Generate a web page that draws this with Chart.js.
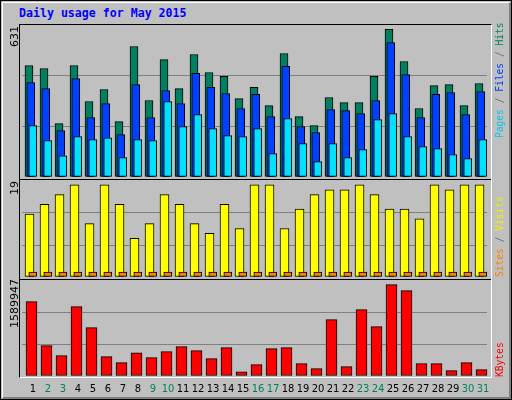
<!DOCTYPE html>
<html><head><meta charset="utf-8">
<script src="https://cdn.jsdelivr.net/npm/chart.js@4"></script>
<style>
html,body{margin:0;padding:0;width:512px;height:400px;overflow:hidden;background:#c0c0c0;}
#outer{position:absolute;left:0;top:0;width:510px;height:398px;border:1px solid #000;background:#c0c0c0;}
#inner{position:absolute;left:1px;top:1px;width:506px;height:394px;border-left:1px solid #fff;border-top:1px solid #fff;border-right:2px solid #808080;border-bottom:2px solid #808080;}
.abs{position:absolute;}
canvas{position:absolute;left:0;}
#title{left:19px;top:6px;font:bold 11.6px "DejaVu Sans Mono",monospace;color:#0000ff;}
.rot{position:absolute;transform:rotate(-90deg);transform-origin:0 0;white-space:nowrap;line-height:11px;}
.lft{font:11px "DejaVu Sans",sans-serif;color:#000;}
.rgt{font:9.6px "DejaVu Sans Mono",monospace;}
#frame{left:19px;top:24px;width:471px;height:352px;border-left:1px solid #000;border-top:1px solid #000;border-right:1px solid #fff;border-bottom:1px solid #fff;}
.sep{position:absolute;left:20px;width:471px;height:1px;background:#000;}
</style></head><body>
<div id="outer"><div id="inner"></div></div>
<div id="title" class="abs">Daily usage for May 2015</div>
<canvas id="c1" width="512" height="152" style="top:25px;width:512px;height:152px"></canvas>
<canvas id="c2" width="512" height="96" style="top:181px;width:512px;height:96px"></canvas>
<canvas id="c3" width="512" height="119" style="top:281px;width:512px;height:119px"></canvas>
<div id="frame" class="abs"></div>
<div class="sep" style="top:179px"></div>
<div class="sep" style="top:279px"></div>
<div class="rot lft" style="left:8px;top:47px">631</div>
<div class="rot lft" style="left:8px;top:195px">19</div>
<div class="rot lft" style="left:8px;top:328px">1589947</div>
<div class="rot rgt" style="left:494px;top:138px"><span style="color:#00c8e8">Pages</span><span style="color:#606060"> / </span><span style="color:#0040ff">Files</span><span style="color:#606060"> / </span><span style="color:#008060">Hits</span></div>
<div class="rot rgt" style="left:494px;top:277px"><span style="color:#ff8000">Sites</span><span style="color:#606060"> / </span><span style="color:#f0f000">Visits</span></div>
<div class="rot rgt" style="left:494px;top:377px"><span style="color:#ff0000">KBytes</span></div>
<script>
const days = ["1","2","3","4","5","6","7","8","9","10","11","12","13","14","15","16","17","18","19","20","21","22","23","24","25","26","27","28","29","30","31"];
const weekend = [2,3,9,10,16,17,23,24,30,31];
const hits  = [477,464,228,477,323,374,237,558,327,502,378,524,447,430,335,383,305,528,258,220,340,318,318,430,631,494,293,391,395,305,400];
const files = [404,378,198,421,254,314,181,395,254,370,314,443,383,357,293,353,258,473,216,190,288,284,271,327,575,438,254,353,361,267,365];
const pages = [220,156,91,173,160,168,83,160,156,323,216,267,207,177,173,207,100,250,143,66,143,83,117,246,271,173,130,121,96,79,160];
const visits = [13,15,17,19,11,19,15,8,11,17,15,11,9,15,10,19,19,10,14,17,18,18,19,17,14,14,12,19,18,19,19];
const sites = [1,1,1,1,1,1,1,1,1,1,1,1,1,1,1,1,1,1,1,1,1,1,1,1,1,1,1,1,1,1,1];
const kbytes = [1294217,527862,354558,1206770,841082,337069,232132,405436,319579,422926,510373,440415,302090,492884,74727,197153,475394,492884,214643,127196,980997,162175,1154302,858571,1589947,1485011,214643,214643,92217,232132,109706];

const shiftPlugin = {
  id:'shift',
  beforeDatasetDraw(chart,args){const s=chart.data.datasets[args.index].shift||0;chart.ctx.save();chart.ctx.translate(s,0);},
  afterDatasetDraw(chart){chart.ctx.restore();}
};
const dayLabels = {
  id:'dayLabels',
  afterDraw(chart){
    if(!chart.options.plugins.dayLabels) return;
    const ctx=chart.ctx, x=chart.scales.x;
    ctx.save();ctx.font='10px "DejaVu Sans", sans-serif';ctx.textAlign='center';ctx.textBaseline='middle';
    days.forEach((d,i)=>{ctx.fillStyle=weekend.includes(+d)?'#008060':'#000';ctx.fillText(d,x.getPixelForValue(i)+3.5,108);});
    ctx.restore();
  }
};
Chart.register(shiftPlugin,dayLabels);

function ds(data,color,thick,shift){return {data,backgroundColor:color,borderColor:'#000',borderWidth:1,borderSkipped:false,barThickness:thick,grouped:false,shift};}
function opts(max,bottomPad,labels){
  return {responsive:false,animation:false,devicePixelRatio:1,
    layout:{padding:{left:22,right:25,top:0,bottom:bottomPad}},
    plugins:{legend:{display:false},tooltip:{enabled:false},dayLabels:labels},
    scales:{
      x:{display:false},
      y:{min:0,max:max,display:true,ticks:{display:false,stepSize:max/3},border:{display:false},
         grid:{drawTicks:false,lineWidth:1,color:(c)=>(c.tick&&c.tick.value>0&&c.tick.value<max-1e-6)?'#808080':'rgba(0,0,0,0)'}}
    }};
}
new Chart(document.getElementById('c1'),{type:'bar',data:{labels:days,datasets:[
  ds(pages,'#00e0ff',8,3.3), ds(files,'#0040ff',8,1.3), ds(hits,'#008060',8,-0.5)]},options:opts(650,0,false)});
new Chart(document.getElementById('c2'),{type:'bar',data:{labels:days,datasets:[
  ds(sites,'#ff8000',8,3.3), ds(visits,'#ffff00',9,0)]},options:opts(19.8,0,false)});
new Chart(document.getElementById('c3'),{type:'bar',data:{labels:days,datasets:[
  ds(kbytes,'#ff0000',11,2)]},options:opts(1653545,24,true)});
</script>
</body></html>
